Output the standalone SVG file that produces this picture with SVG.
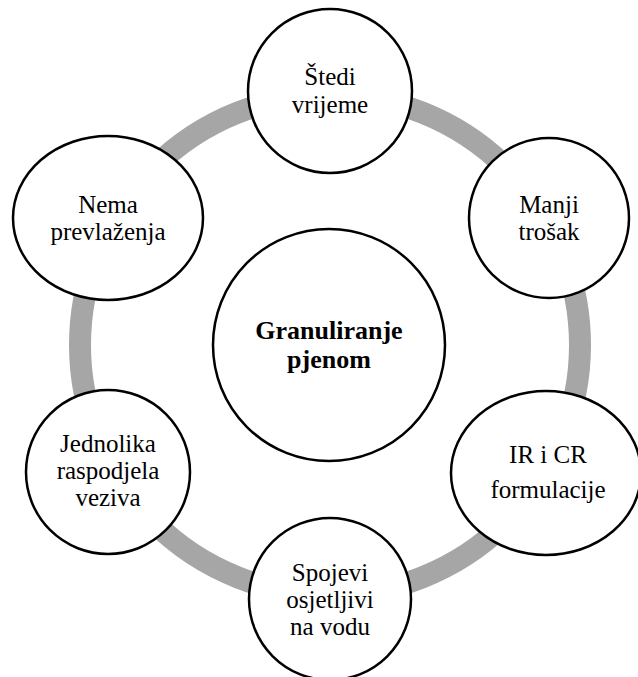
<svg xmlns="http://www.w3.org/2000/svg" width="638" height="677" viewBox="0 0 638 677">
<style>
.node{fill:#fff;stroke:#000;stroke-width:2.5}
.t{font-family:"Liberation Serif","Times New Roman",serif;font-size:25px;fill:#000;text-anchor:middle}
.b{font-weight:bold;font-size:26px}
</style>
<rect width="638" height="677" fill="#fff"/>
<g id="connectors">
<circle cx="330" cy="345" r="250" fill="none" stroke="#a6a6a6" stroke-width="22"/>
</g>
<g id="center">
<circle class="node" cx="329" cy="345" r="116"/>
<text class="t b" x="329" y="339">Granuliranje</text>
<text class="t b" x="329" y="368">pjenom</text>
</g>
<g id="n1">
<circle class="node" cx="330" cy="91" r="82"/>
<text class="t" x="330" y="85">Štedi</text>
<text class="t" x="330" y="113">vrijeme</text>
</g>
<g id="n2">
<circle class="node" cx="549" cy="218" r="80"/>
<text class="t" x="549" y="213">Manji</text>
<text class="t" x="549" y="240">trošak</text>
</g>
<g id="n3">
<ellipse class="node" cx="546" cy="473" rx="95" ry="82"/>
<text class="t" x="548" y="463">IR i CR</text>
<text class="t" x="548" y="498">formulacije</text>
</g>
<g id="n4">
<circle class="node" cx="330" cy="599" r="81"/>
<text class="t" x="330" y="581">Spojevi</text>
<text class="t" x="330" y="608">osjetljivi</text>
<text class="t" x="330" y="635">na vodu</text>
</g>
<g id="n5">
<circle class="node" cx="108" cy="472" r="82"/>
<text class="t" x="108" y="452">Jednolika</text>
<text class="t" x="108" y="479">raspodjela</text>
<text class="t" x="108" y="506">veziva</text>
</g>
<g id="n6">
<ellipse class="node" cx="108" cy="218" rx="95" ry="82"/>
<text class="t" x="108" y="213">Nema</text>
<text class="t" x="108" y="240">prevlaženja</text>
</g>
</svg>
